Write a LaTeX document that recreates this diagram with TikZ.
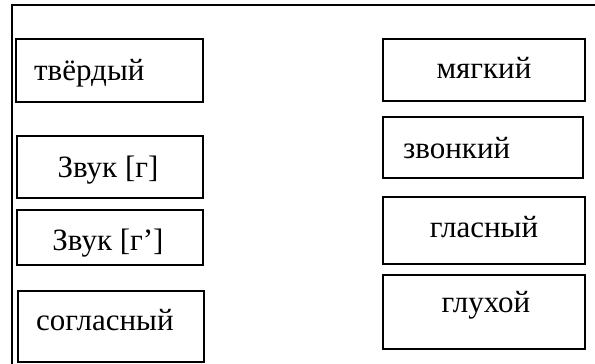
\documentclass[tikz,border=0pt]{standalone}
\usepackage{fontspec}
\setmainfont{Liberation Serif}
\begin{document}
\begin{tikzpicture}[x=1pt,y=-1pt,
  box/.style={draw,line width=1.4pt,inner sep=0pt},
  lbl/.style={inner sep=0pt,font=\fontsize{31}{34}\selectfont},
  frame/.style={line width=1.3pt}]
\useasboundingbox (0,0) rectangle (595,364);
\coordinate (ftl) at (12,5);
\coordinate (ftr) at (595,5);
\coordinate (fbl) at (12,364);
\draw[frame] (ftr) -- (ftl) -- (fbl);
% left column
\node[box,minimum width=187pt,minimum height=63pt] (tvbox) at (109.5,70.5) {};
\node[lbl,anchor=base west] (tv) at (34,80) {твёрдый};
\node[box,minimum width=186pt,minimum height=62pt] (zgbox) at (110,167) {};
\node[lbl,anchor=base] (zg) at (108,177) {Звук [г]};
\node[box,minimum width=186pt,minimum height=55pt] (zgbbox) at (110,237.5) {};
\node[lbl,anchor=base] (zg2) at (108,250) {Звук [г’]};
\node[box,minimum width=186pt,minimum height=71pt] (sogbox) at (111,326.5) {};
\node[lbl,anchor=base west] (sog) at (36,330) {согласный};
% right column
\node[box,minimum width=202pt,minimum height=62pt] (myabox) at (484,70) {};
\node[lbl,anchor=base] (mya) at (484,78) {мягкий};
\node[box,minimum width=200pt,minimum height=61pt] (zvobox) at (483,147.5) {};
\node[lbl,anchor=base west] (zvo) at (403,158) {звонкий};
\node[box,minimum width=202pt,minimum height=67pt] (glabox) at (484,230.5) {};
\node[lbl,anchor=base] (gla) at (484,237) {гласный};
\node[box,minimum width=202pt,minimum height=74pt] (glubox) at (484,312) {};
\node[lbl,anchor=base] (glu) at (486,312) {глухой};
\end{tikzpicture}
\end{document}
